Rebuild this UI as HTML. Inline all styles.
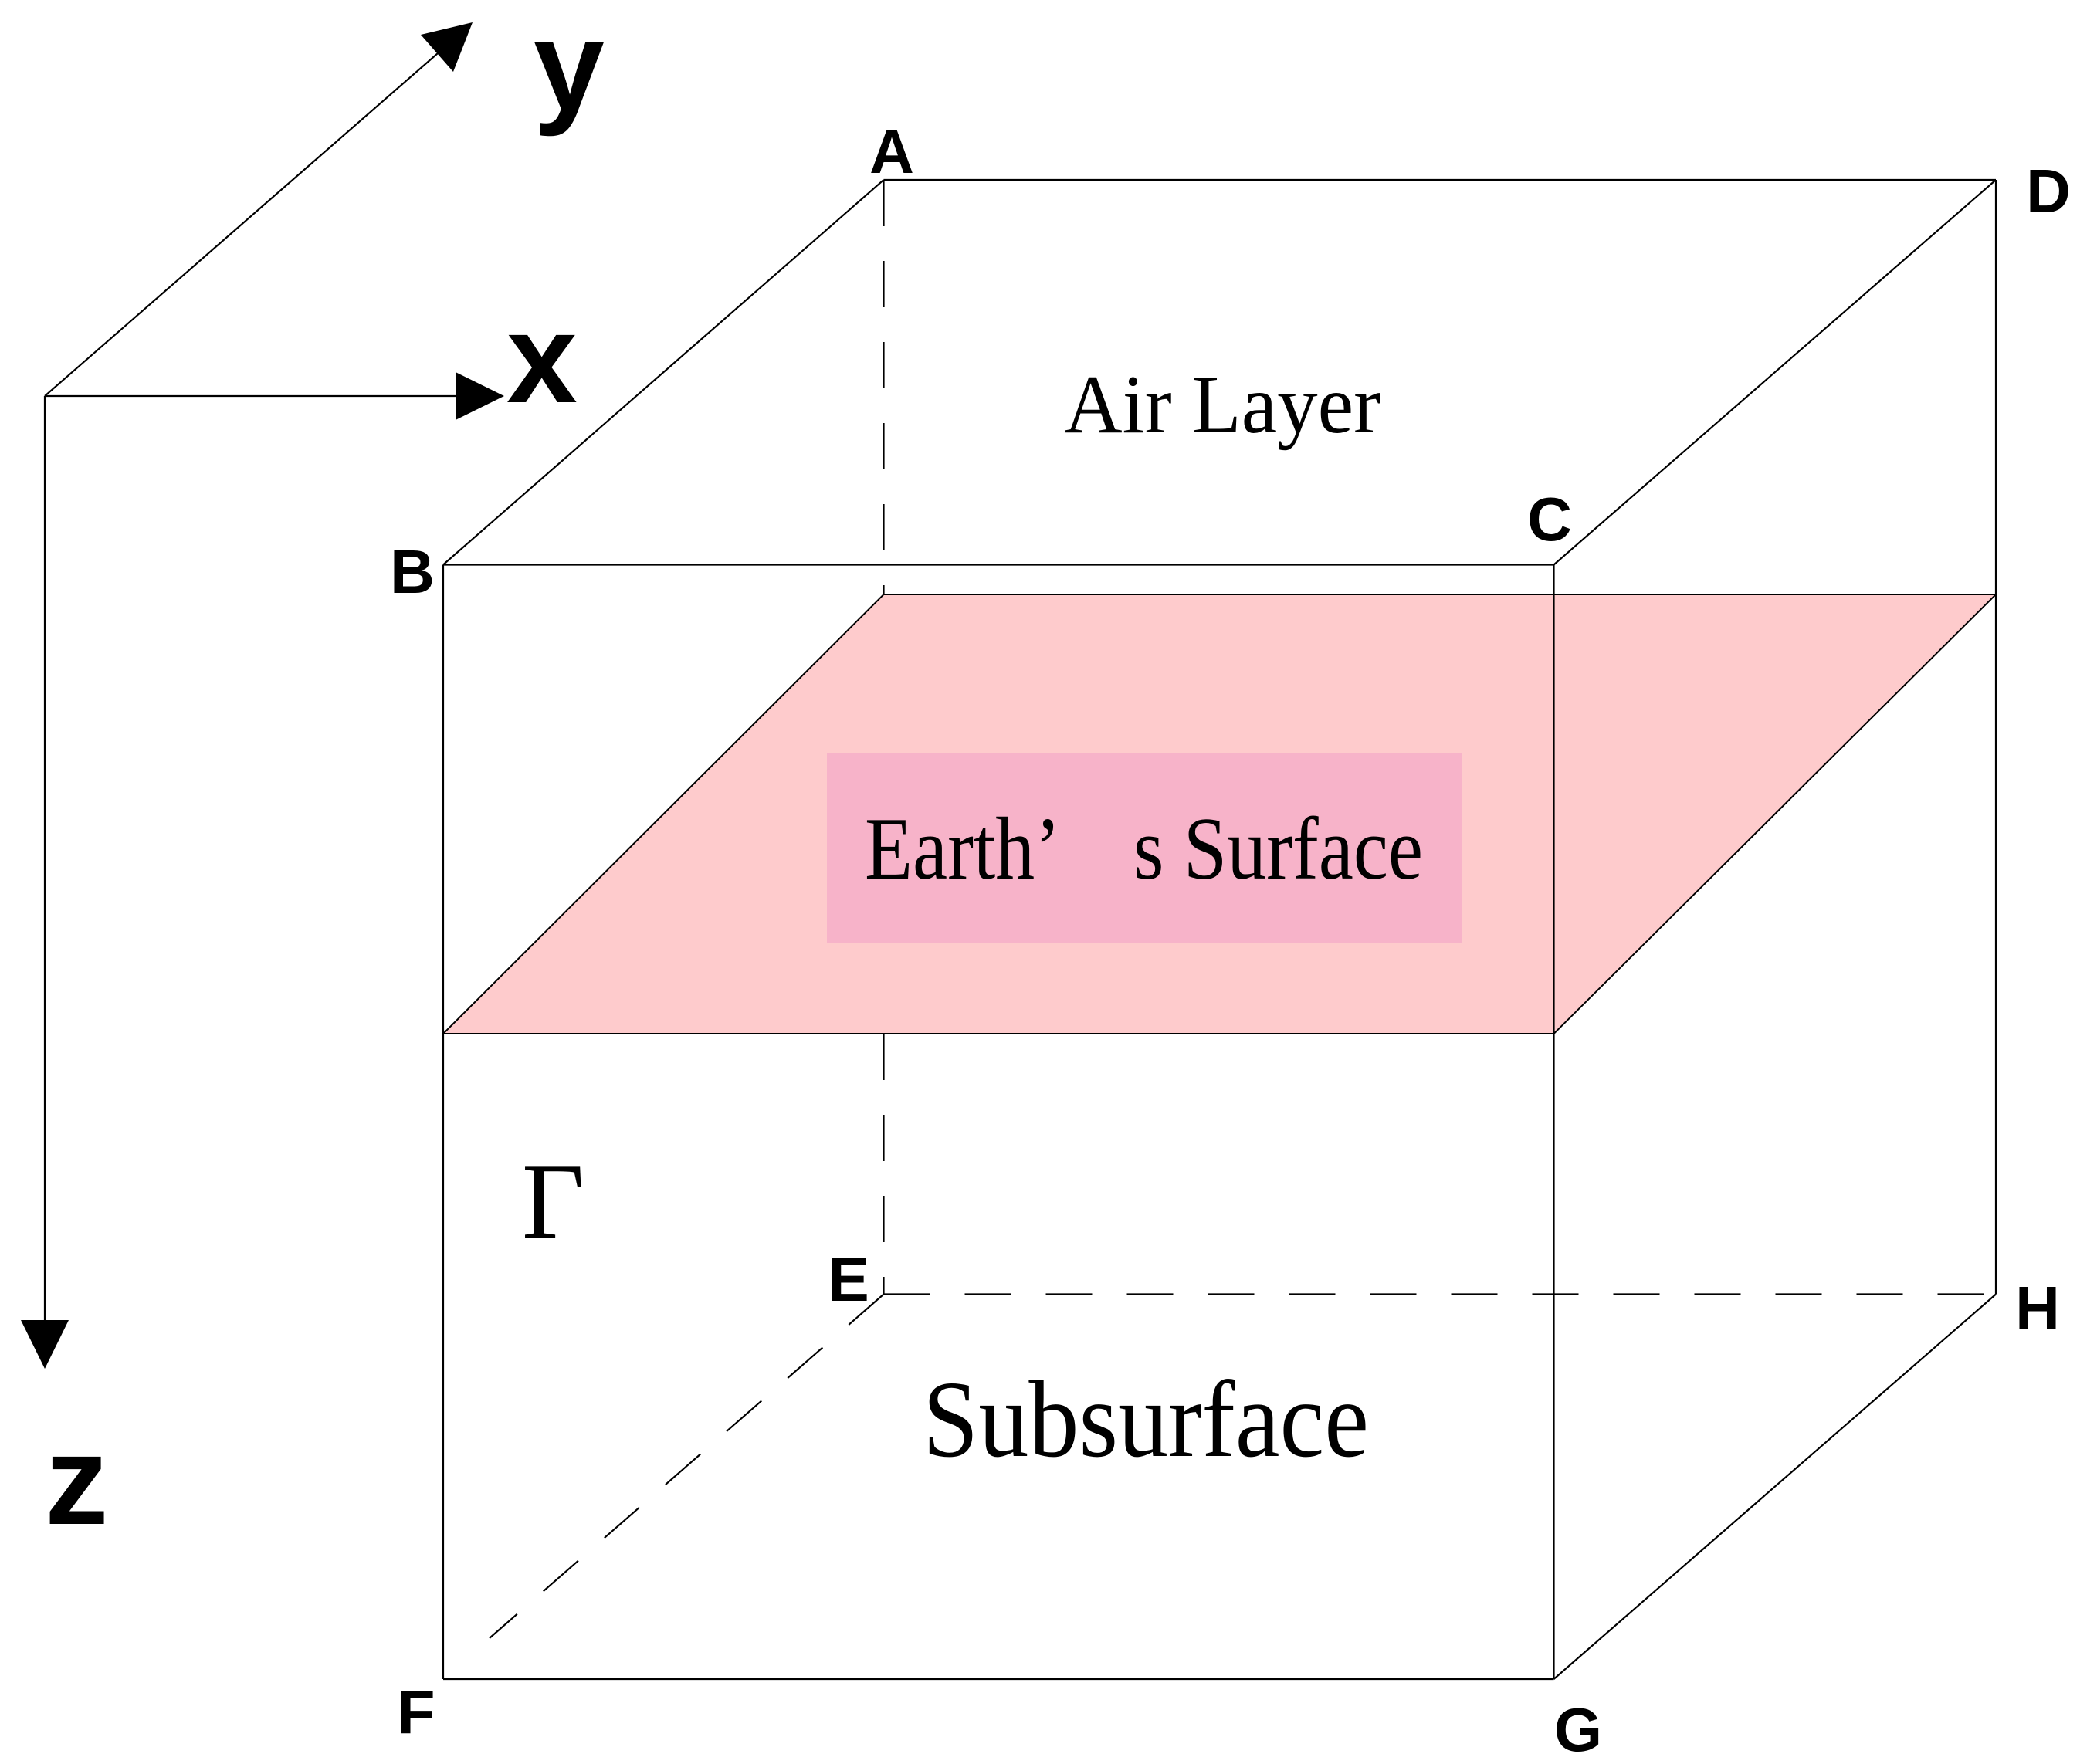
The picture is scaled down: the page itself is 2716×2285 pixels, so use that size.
<!DOCTYPE html>
<html><head><meta charset="utf-8"><style>html,body{margin:0;padding:0;background:#fff}svg{display:block}</style></head><body>
<svg width="2716" height="2285" viewBox="0 0 2716 2285" xmlns="http://www.w3.org/2000/svg">
<rect width="2716" height="2285" fill="#fff"/>
<!-- pink plane -->
<polygon points="1144.5,770 2585,770 2012.5,1339 574,1339" fill="#fecbcc" stroke="#000" stroke-width="2"/>
<rect x="1071" y="975" width="822" height="247" fill="#f7b3c9"/>
<g stroke="#000" stroke-width="2.2" fill="none">
<!-- solid edges -->
<line x1="1144.5" y1="233" x2="2585" y2="233"/>
<line x1="1144.5" y1="233" x2="574" y2="731.5"/>
<line x1="2585" y1="233" x2="2012.5" y2="731.5"/>
<line x1="574" y1="731.5" x2="2012.5" y2="731.5"/>
<line x1="574" y1="731.5" x2="574" y2="2175"/>
<line x1="2012.5" y1="731.5" x2="2012.5" y2="2175"/>
<line x1="2585" y1="233" x2="2585" y2="1676.5"/>
<line x1="574" y1="2175" x2="2012.5" y2="2175"/>
<line x1="2012.5" y1="2175" x2="2585" y2="1676.5"/>
<!-- dashed -->
<line x1="1144.5" y1="233" x2="1144.5" y2="770" stroke-dasharray="60,45"/>
<line x1="1144.5" y1="1339" x2="1144.5" y2="1676.5" stroke-dasharray="60,45"/>
<line x1="1144.5" y1="1676.5" x2="2585" y2="1676.5" stroke-dasharray="60,45"/>
<line x1="1144.5" y1="1676.5" x2="634" y2="2122" stroke-dasharray="60,45"/>
<!-- axes -->
<line x1="58" y1="513" x2="600" y2="513"/>
<line x1="58" y1="513" x2="58" y2="1720"/>
<line x1="58" y1="513" x2="575" y2="62"/>
</g>
<g fill="#000">
<polygon points="653,513 590,482 590,544"/>
<polygon points="58,1773 27,1710 89,1710"/>
<polygon points="612,29 587,93 545,45"/>
</g>
<g font-family="Liberation Sans, Arial, sans-serif" font-weight="bold" fill="#000">
<text x="691" y="142" font-size="165">y</text>
<text x="656" y="521" font-size="165">x</text>
<text x="58" y="1974" font-size="165">z</text>
<g font-size="80">
<text x="1155" y="224" text-anchor="middle">A</text>
<text x="534" y="768" text-anchor="middle">B</text>
<text x="2007" y="700" text-anchor="middle">C</text>
<text x="2653" y="275" text-anchor="middle">D</text>
<text x="1099" y="1685" text-anchor="middle">E</text>
<text x="2639" y="1722" text-anchor="middle">H</text>
<text x="539" y="2245" text-anchor="middle">F</text>
<text x="2044" y="2268" text-anchor="middle">G</text>
</g>
</g>
<g font-family="Liberation Serif, Times New Roman, serif" fill="#000">
<text x="1378" y="560" font-size="108" textLength="410" lengthAdjust="spacingAndGlyphs">Air Layer</text>
<text x="1120" y="1138" font-size="116" textLength="723" lengthAdjust="spacingAndGlyphs">Earth’　s Surface</text>
<text x="1195" y="1886" font-size="142" textLength="578" lengthAdjust="spacingAndGlyphs">Subsurface</text>
<text x="676" y="1603" font-size="140">Γ</text>
</g>
</svg>
</body></html>
